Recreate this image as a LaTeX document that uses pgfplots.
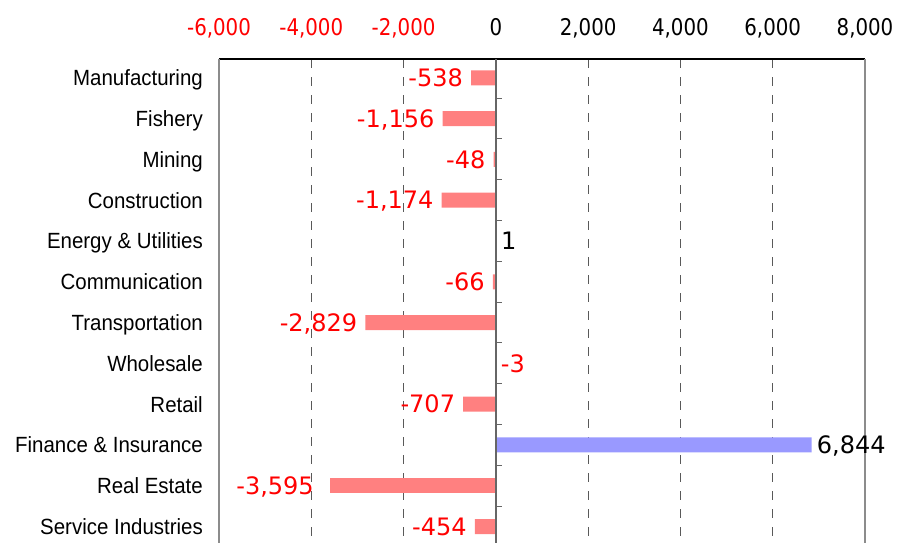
\documentclass[border=0pt]{standalone}
\usepackage{pgfplots}
\pgfplotsset{compat=1.18}
\usepackage{pgfplotstable}
\usepackage{fontspec}
\setmainfont{DejaVu Sans}
\newfontfamily\tickfont[FakeStretch=0.86]{DejaVu Sans}
\newfontfamily\catfont[FakeStretch=0.93]{Liberation Sans}
\newfontfamily\valfont{DejaVu Sans}
\definecolor{barred}{HTML}{FF8080}
\definecolor{barblue}{HTML}{9999FF}

\pgfplotstableread{
y x lab
0 -538 -538
1 -1156 -1,156
2 -48 -48
3 -1174 -1,174
5 -66 -66
6 -2829 -2,829
8 -707 -707
11 -454 -454
}\negdata
\pgfplotstableread{
y x lab
10 -3595 -3,595
}\redata
\pgfplotstableread{
y x lab
4 1 1
9 6844 6,844
}\posdata
\pgfplotstableread{
y x lab
7 -3 -3
}\specdata

\begin{document}
\begin{tikzpicture}
\begin{axis}[
  at={(219pt,483pt)}, anchor=north west,
  scale only axis, width=646pt, height=492pt,
  xmin=-6000, xmax=8000, ymin=-0.46, ymax=11.6, y dir=reverse,
  xbar, bar width=15pt, bar shift=0pt,
  clip=false,
  xtick={-6000,-4000,-2000,0,2000,4000,6000,8000},
  xticklabels={{\textcolor{red}{-6,000}},{\textcolor{red}{-4,000}},{\textcolor{red}{-2,000}},{0},{2,000},{4,000},{6,000},{8,000}},
  xtick pos=right, xticklabel pos=right,
  tick align=inside, major tick length=9pt,
  x tick style={black!65, line width=1pt},
  xmajorgrids, grid style={black!65, line width=1pt, dash pattern=on 9pt off 9pt},
  xticklabel style={font=\tickfont\fontsize{23}{23}\selectfont, anchor=base, yshift=24pt, inner sep=0pt},
  ytick={0,...,11},
  yticklabels={Manufacturing,Fishery,Mining,Construction,Energy \& Utilities,Communication,Transportation,Wholesale,Retail,Finance \& Insurance,Real Estate,Service Industries},
  y tick style={draw=none},
  yticklabel style={font=\catfont\fontsize{22}{22}\selectfont, anchor=base east, inner sep=0pt, xshift=-16pt, yshift=-8pt},
  separate axis lines,
  x axis line style={black, line width=1.3pt},
  y axis line style={black!45, line width=1.3pt},
]
\addplot[fill=barred, draw=none, point meta=explicit symbolic,
  nodes near coords={\pgfplotspointmeta},
  every node near coord/.append style={text=red, font=\valfont\fontsize{24}{24}\selectfont, anchor=base east, inner sep=0pt, xshift=-8pt, yshift=-8.7pt}]
  table[x=x, y=y, meta=lab]{\negdata};
\addplot[fill=barred, draw=none, point meta=explicit symbolic,
  nodes near coords={\pgfplotspointmeta},
  every node near coord/.append style={text=red, font=\valfont\fontsize{24}{24}\selectfont, anchor=base east, inner sep=0pt, xshift=-16pt, yshift=-8.7pt}]
  table[x=x, y=y, meta=lab]{\redata};
\addplot[fill=barblue, draw=none, point meta=explicit symbolic,
  nodes near coords={\pgfplotspointmeta},
  every node near coord/.append style={text=black, font=\valfont\fontsize{24}{24}\selectfont, anchor=base west, inner sep=0pt, xshift=5pt, yshift=-8.7pt}]
  table[x=x, y=y, meta=lab]{\posdata};
\addplot[fill=barred, draw=none, point meta=explicit symbolic,
  nodes near coords={\pgfplotspointmeta},
  every node near coord/.append style={text=red, font=\valfont\fontsize{24}{24}\selectfont, anchor=base west, inner sep=0pt, xshift=5pt, yshift=-8.7pt}]
  table[x=x, y=y, meta=lab]{\specdata};
\draw[black!60, line width=1.3pt] (axis cs:0,-0.46) -- (axis cs:0,11.6);
\pgfplotsinvokeforeach{0.5,1.5,...,10.5}{\draw[black!60, line width=1pt] (axis cs:0,#1) -- ([xshift=6pt]axis cs:0,#1);}
\end{axis}
\pgfresetboundingbox
\useasboundingbox (0,0) rectangle (897pt,542pt);
\end{tikzpicture}
\end{document}
